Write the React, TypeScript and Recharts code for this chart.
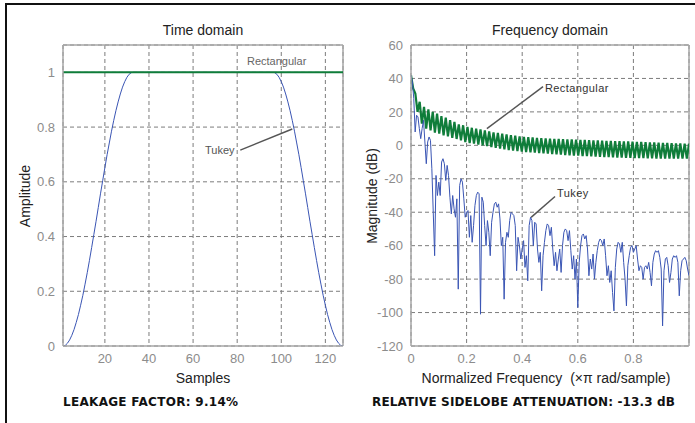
import React from 'react';
import { LineChart, Line, XAxis, YAxis, CartesianGrid, ReferenceLine } from 'recharts';

// ---- axis ticks ----
const timeTicksX = [20, 40, 60, 80, 100, 120];
const timeTicksY = [0, 0.2, 0.4, 0.6, 0.8, 1];
const freqTicksX = [0, 0.2, 0.4, 0.6, 0.8];
const freqTicksY = [-120, -100, -80, -60, -40, -20, 0, 20, 40, 60];

// ---- time domain (samples 1..33 rising taper, 96..128 falling taper) ----
const tukeyRise = [
  0, 0.002, 0.01, 0.022, 0.039, 0.06, 0.086, 0.115, 0.149, 0.185, 0.226,
  0.268, 0.313, 0.36, 0.408, 0.456, 0.506, 0.556, 0.604, 0.652, 0.699,
  0.742, 0.785, 0.824, 0.86, 0.892, 0.921, 0.946, 0.966, 0.982, 0.993, 0.999, 1,
];
const tukeyFall = [
  1, 0.999, 0.993, 0.982, 0.966, 0.946, 0.921, 0.892, 0.86, 0.824, 0.785,
  0.742, 0.699, 0.652, 0.604, 0.556, 0.506, 0.456, 0.408, 0.36, 0.313,
  0.268, 0.226, 0.185, 0.149, 0.115, 0.086, 0.06, 0.039, 0.022, 0.01, 0.002, 0,
];
const rectTimeSamples = [1, 128];
const rectTimeValues = [1, 1];

// ---- frequency domain ----
// rectangular: sampled lobe tops (at k/64) and lobe bottoms (at (2k+1)/128), dB
const rectPeakDb = [
  42, 31, 26, 23, 21.5, 20, 19, 17.5, 16.5, 15, 14, 12.5, 12, 11, 10.5, 10,
  9.5, 9, 8.3, 7.8, 7.4, 7, 6.5, 6.1, 5.8, 5.4, 5.1, 4.9, 4.7, 4.5, 4.3, 4.1,
  4, 3.9, 3.8, 3.7, 3.6, 3.5, 3.4, 3.3, 3.2, 3.1, 3, 2.9, 2.8, 2.7, 2.6, 2.5,
  2.5, 2.4, 2.3, 2.2, 2.1, 2, 1.9, 1.8, 1.7, 1.6, 1.5, 1.4, 1.3, 1.2, 1.1, 1, 1,
];
const rectDipDb = [
  34, 20, 13, 10, 9, 7.6, 7, 6, 5.3, 4.5, 3.8, 3, 2, 1.4, 1, 0.5,
  0, -0.5, -1, -1.5, -2, -2.4, -2.8, -3.1, -3.4, -3.7, -4, -4.2, -4.4, -4.6, -4.8, -5,
  -5.2, -5.4, -5.6, -5.8, -6, -6.1, -6.2, -6.4, -6.5, -6.6, -6.8, -6.9, -7, -7.1, -7.2, -7.3,
  -7.4, -7.5, -7.5, -7.6, -7.7, -7.7, -7.8, -7.8, -7.9, -7.9, -8, -8, -8, -8, -8, -8,
];
// tukey: dB every 0.005 of normalized frequency
const tukeyDb = [
  42, 38, 28, 8, 18, 17, 10, 4, 10, 15,
  2, -11, 2, 5, 3, -14, -40, -66, -18, -30,
  -22, -30, -10, -8, -11, -21, -12, -18, -31, -41,
  -30, -38, -43, -32, -86, -24, -20, -22, -32, -43,
  -40, -39, -55, -42, -58, -48, -36, -30, -28, -29,
  -101, -31, -34, -48, -60, -45, -52, -66, -46, -40,
  -35, -34, -37, -35, -44, -60, -55, -92, -58, -52,
  -55, -45, -40, -41, -42, -48, -75, -55, -60, -68,
  -62, -57, -73, -66, -81, -48, -43, -45, -60, -46,
  -47, -62, -70, -64, -87, -66, -58, -51, -47, -48,
  -54, -49, -62, -72, -64, -75, -68, -62, -76, -60,
  -52, -50, -51, -57, -51, -63, -74, -66, -80, -68,
  -97, -70, -60, -54, -53, -56, -54, -62, -78, -68,
  -74, -65, -80, -70, -63, -58, -56, -57, -60, -56,
  -66, -78, -72, -82, -75, -88, -99, -73, -62, -58,
  -59, -64, -58, -70, -80, -96, -72, -66, -61, -60,
  -64, -62, -60, -68, -75, -72, -73, -80, -73, -72,
  -74, -70, -76, -84, -70, -65, -63, -64, -63, -67,
  -74, -108, -75, -68, -67, -72, -82, -76, -68, -66,
  -67, -66, -70, -90, -75, -69, -68, -67, -69, -74,
  -78,
];

// ---- tables for the library ----
const timeTukeyData = [
  ...tukeyRise.map((v, i) => ({ x: i + 1, y: v })),
  ...tukeyFall.map((v, i) => ({ x: 96 + i, y: v })),
];
const timeRectData = rectTimeSamples.map((s, i) => ({ x: s, y: rectTimeValues[i] }));

const freqRectData: { x: number; y: number }[] = [];
for (let i = 0; i <= 128; i++) {
  const v = i % 2 === 0 ? rectPeakDb[i / 2] : rectDipDb[(i - 1) / 2];
  freqRectData.push({ x: i / 128, y: v });
}
const freqTukeyData = tukeyDb.map((v, i) => ({ x: i / 200, y: v }));

// ---- styles ----
const GREEN = '#0f7d3a';
const BLUE = '#3a55b4';
const AXIS = '#a6a6a6';
const GRID = '#7c7c7c';
const tickStyle = { fill: '#8c8c8c', fontSize: 13, fontFamily: '"Liberation Sans", Arial, sans-serif' };
const sans = '"Liberation Sans", Arial, sans-serif';

const abs = (left: number, top: number, extra: React.CSSProperties = {}): React.CSSProperties => ({
  position: 'absolute',
  left,
  top,
  whiteSpace: 'nowrap',
  fontFamily: sans,
  ...extra,
});

function TimeChart() {
  return (
    <LineChart width={350} height={423} margin={{ top: 45, right: 7, bottom: 47, left: 0 }}>
      <CartesianGrid stroke={GRID} strokeDasharray="4 3" strokeWidth={1} />
      <XAxis
        type="number"
        dataKey="x"
        domain={[1, 128]}
        ticks={timeTicksX}
        allowDataOverflow
        height={30}
        tick={tickStyle}
        tickLine={false}
        axisLine={{ stroke: AXIS, strokeWidth: 1.5 }}
      />
      <YAxis
        type="number"
        dataKey="y"
        domain={[0, 1.1]}
        ticks={timeTicksY}
        allowDataOverflow
        width={63}
        tick={tickStyle}
        tickLine={false}
        axisLine={{ stroke: AXIS, strokeWidth: 1.5 }}
      />
      <ReferenceLine x={128} stroke={AXIS} strokeWidth={1.5} />
      <ReferenceLine y={1.1} stroke={AXIS} strokeWidth={1.5} />
      <Line data={timeTukeyData} dataKey="y" stroke={BLUE} strokeWidth={1} dot={false} activeDot={false} isAnimationActive={false} />
      <Line data={timeRectData} dataKey="y" stroke={GREEN} strokeWidth={2} dot={false} activeDot={false} isAnimationActive={false} />
      <ReferenceLine
        segment={[{ x: 81.4, y: 0.716 }, { x: 105, y: 0.793 }]}
        stroke="#555"
        strokeWidth={1.5}
      />
    </LineChart>
  );
}

function FreqChart() {
  return (
    <LineChart width={345} height={423} margin={{ top: 45, right: 6, bottom: 47, left: 0 }}>
      <CartesianGrid stroke={GRID} strokeDasharray="4 3" strokeWidth={1} />
      <XAxis
        type="number"
        dataKey="x"
        domain={[0, 1]}
        ticks={freqTicksX}
        allowDataOverflow
        height={30}
        tick={tickStyle}
        tickLine={false}
        axisLine={{ stroke: AXIS, strokeWidth: 1.5 }}
      />
      <YAxis
        type="number"
        dataKey="y"
        domain={[-120, 60]}
        ticks={freqTicksY}
        allowDataOverflow
        width={61}
        tick={tickStyle}
        tickLine={false}
        axisLine={{ stroke: AXIS, strokeWidth: 1.5 }}
      />
      <ReferenceLine x={1} stroke={AXIS} strokeWidth={1.5} />
      <ReferenceLine y={60} stroke={AXIS} strokeWidth={1.5} />
      <Line data={freqRectData} dataKey="y" stroke={GREEN} strokeWidth={2.2} dot={false} activeDot={false} isAnimationActive={false} />
      <Line data={freqTukeyData} dataKey="y" stroke={BLUE} strokeWidth={1} dot={false} activeDot={false} isAnimationActive={false} />
      <ReferenceLine
        segment={[{ x: 0.273, y: 10 }, { x: 0.475, y: 35.1 }]}
        stroke="#555"
        strokeWidth={1.5}
      />
      <ReferenceLine
        segment={[{ x: 0.432, y: -43.1 }, { x: 0.518, y: -30.6 }]}
        stroke="#555"
        strokeWidth={1.5}
      />
    </LineChart>
  );
}

export default function App() {
  return (
    <div style={{ position: 'fixed', left: 0, top: 0, width: 695, height: 423, background: '#fff', overflow: 'hidden' }}>
      {/* frame */}
      <div style={{ position: 'absolute', left: 5, top: 3, width: 700, height: 430, borderTop: '2px solid #111', borderLeft: '2px solid #111' }} />
      <div style={{ position: 'absolute', left: 0, top: 0 }}>
        <TimeChart />
      </div>
      <div style={{ position: 'absolute', left: 350, top: 0 }}>
        <FreqChart />
      </div>

      {/* titles */}
      <div style={abs(63, 21, { width: 280, textAlign: 'center', fontSize: 14, lineHeight: '18px', color: '#222' })}>Time domain</div>
      <div style={abs(411, 21, { width: 278, textAlign: 'center', fontSize: 14, lineHeight: '18px', color: '#222' })}>Frequency domain</div>

      {/* axis labels */}
      <div style={abs(63, 369, { width: 280, textAlign: 'center', fontSize: 14, lineHeight: '18px', color: '#222' })}>Samples</div>
      <div style={abs(400, 369, { width: 292, textAlign: 'center', fontSize: 14, lineHeight: '18px', color: '#222' })}>
        Normalized Frequency&nbsp; (×π rad/sample)
      </div>
      <div
        style={abs(25 - 100, 196 - 9, {
          width: 200,
          textAlign: 'center',
          fontSize: 14,
          lineHeight: '18px',
          color: '#222',
          transform: 'rotate(-90deg)',
        })}
      >
        Amplitude
      </div>
      <div
        style={abs(372 - 100, 196 - 9, {
          width: 200,
          textAlign: 'center',
          fontSize: 14,
          lineHeight: '18px',
          color: '#222',
          transform: 'rotate(-90deg)',
        })}
      >
        Magnitude (dB)
      </div>

      {/* annotations */}
      <div style={abs(247, 54, { fontSize: 11, lineHeight: '14px', color: '#666' })}>Rectangular</div>
      <div style={abs(205, 143, { fontSize: 11, lineHeight: '14px', color: '#555' })}>Tukey</div>
      <div style={abs(545, 81, { fontSize: 11, lineHeight: '14px', color: '#333', letterSpacing: 0.4 })}>Rectangular</div>
      <div style={abs(557, 186, { fontSize: 11, lineHeight: '14px', color: '#333', letterSpacing: 0.4 })}>Tukey</div>

      {/* bottom info */}
      <div style={abs(63, 395, { fontSize: 12, lineHeight: '15px', fontWeight: 'bold', color: '#111', letterSpacing: 0.3, fontFamily: '"DejaVu Sans", sans-serif' })}>
        LEAKAGE FACTOR: 9.14%
      </div>
      <div style={abs(372, 395, { fontSize: 12, lineHeight: '15px', fontWeight: 'bold', color: '#111', letterSpacing: 0.15, fontFamily: '"DejaVu Sans", sans-serif' })}>
        RELATIVE SIDELOBE ATTENUATION: -13.3 dB
      </div>
    </div>
  );
}
